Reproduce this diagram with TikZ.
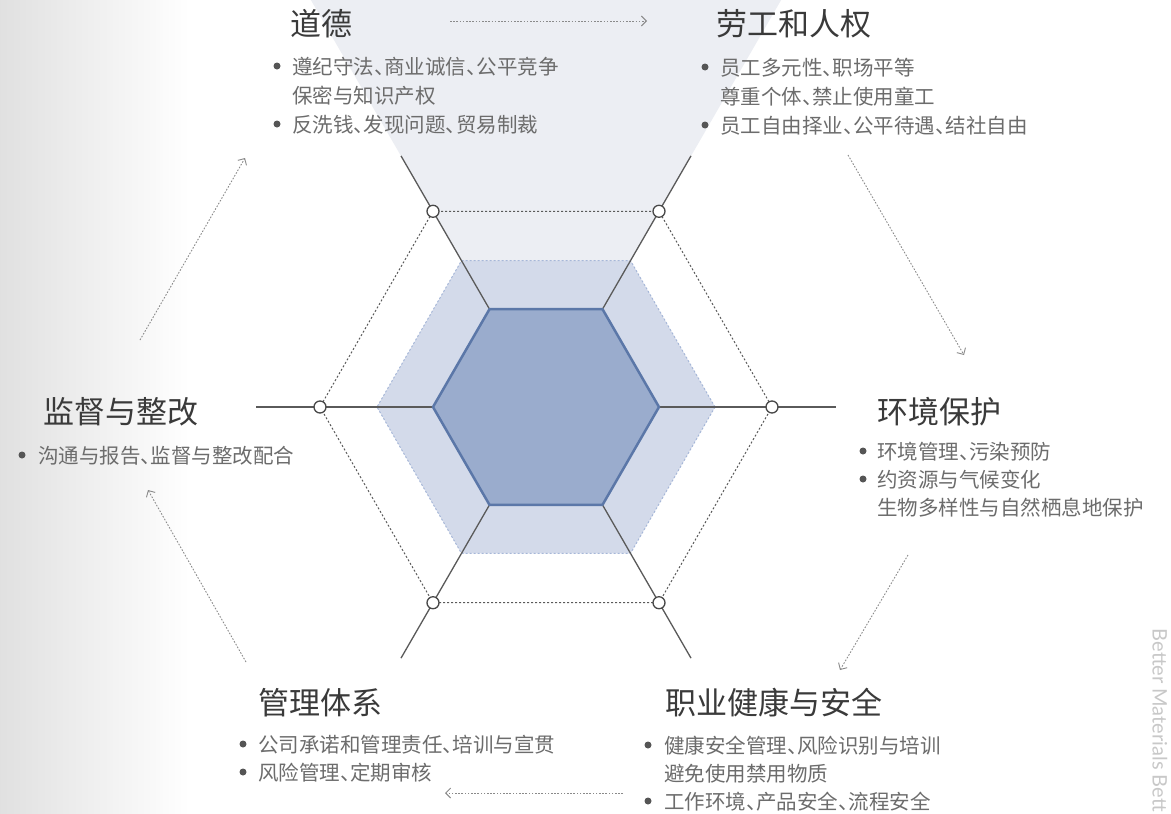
\documentclass[tikz,border=0pt]{standalone}
\usepackage{fontspec}
\setmainfont{Noto Sans CJK SC}
\newfontfamily\latinf{Lato}
\usetikzlibrary{arrows.meta,calc}
\definecolor{titlec}{HTML}{3A3A3A}
\definecolor{textc}{HTML}{6C6C6C}
\definecolor{dotc}{HTML}{555555}
\definecolor{funnelc}{HTML}{ECEEF3}
\definecolor{midfill}{HTML}{D3DAEA}
\definecolor{midline}{HTML}{A6B7D8}
\definecolor{infill}{HTML}{9AACCD}
\definecolor{inline}{HTML}{5B77A8}
\definecolor{spokec}{HTML}{5A5A5A}
\definecolor{arrowc}{HTML}{8A8A8A}
\definecolor{brandc}{HTML}{C8C8C8}
\newcommand\dn{\makebox[0.5em][l]{、}}
\tikzset{
 ttl/.style={anchor=base west, inner sep=0pt, text=titlec, font=\fontsize{31}{36}\selectfont},
 itm/.style={anchor=base west, inner sep=0pt, text=textc, font=\fontsize{20.5}{24}\selectfont},
 bul/.style={circle, fill=dotc, inner sep=0pt, minimum size=7pt},
 ring/.style={circle, draw=spokec!80!black, fill=white, line width=1.3pt, inner sep=0pt, minimum size=12pt},
 flow/.style={draw=arrowc, line width=0.9pt, dash pattern=on 1.6pt off 1.6pt, -{Straight Barb[length=5pt,width=10pt,line width=0.9pt]}},
 spk/.style={draw=spokec, line width=1.3pt},
 outerdash/.style={draw=spokec, line width=1pt, dash pattern=on 2pt off 2pt},
}
\begin{document}
\begin{tikzpicture}[x=1pt,y=-1pt]
\useasboundingbox (0,0) rectangle (1171,814);
\clip (0,0) rectangle (1171,814);
% background
\fill[white] (0,0) rectangle (1171,814);
\shade[left color=black!12, right color=white] (0,0) rectangle (190,814);
% funnel
\coordinate (c) at (546,407);
\fill[funnelc] (c) -- (308,-5) -- (784,-5) -- cycle;
\begin{scope}[shift={(546,407)}]
 \foreach \a in {0,60,...,300}{
   \coordinate (i\a) at (\a:113);
   \coordinate (m\a) at (\a:169);
   \coordinate (e\a) at (\a:290);
 }
 % middle hexagon
 \fill[midfill] (m0) -- (m60) -- (m120) -- (m180) -- (m240) -- (m300) -- cycle;
 \draw[midline, line width=1pt, dash pattern=on 2pt off 2pt] (m0) -- (m60) -- (m120) -- (m180) -- (m240) -- (m300) -- cycle;
 % spokes
 \foreach \a in {0,60,...,300}{ \draw[spk] (i\a) -- (e\a); }
 % inner hexagon
 \filldraw[fill=infill, draw=inline, line width=2.5pt, line join=round] (i0) -- (i60) -- (i120) -- (i180) -- (i240) -- (i300) -- cycle;
 % outer dashed hexagon
 \foreach \a in {0,60,...,300}{ \coordinate (q\a) at (\a:226); }
 \draw[outerdash] (q0) -- (q60) -- (q120) -- (q180) -- (q240) -- (q300) -- cycle;
 \foreach \a in {0,60,...,300}{ \node[ring] (o\a) at (q\a) {}; }
\end{scope}
% cycle arrows
\coordinate (a1s) at (450,21);  \coordinate (a1e) at (647,21);
\coordinate (a2s) at (848,155); \coordinate (a2e) at (964,355);
\coordinate (a3s) at (908,555); \coordinate (a3e) at (840,670);
\coordinate (a4s) at (623,793); \coordinate (a4e) at (445,793);
\coordinate (a5s) at (246,662); \coordinate (a5e) at (148,490);
\coordinate (a6s) at (140,340); \coordinate (a6e) at (245,158);
\draw[flow] (a1s) -- (a1e);
\draw[flow] (a2s) -- (a2e);
\draw[flow] (a3s) -- (a3e);
\draw[flow] (a4s) -- (a4e);
\draw[flow] (a5s) -- (a5e);
\draw[flow] (a6s) -- (a6e);
% Ethics
\node[ttl] (t1) at (290,35) {道德};
\node[bul] (b1a) at (277,66) {};
\node[itm] (l1a) at (292,74) {遵纪守法\dn 商业诚信\dn 公平竞争};
\node[itm] (l1b) at (292,103) {保密与知识产权};
\node[bul] (b1b) at (277,124) {};
\node[itm] (l1c) at (292,132) {反洗钱\dn 发现问题\dn 贸易制裁};
% Labour
\node[ttl] (t2) at (716,35) {劳工和人权};
\node[bul] (b2a) at (705,67) {};
\node[itm] (l2a) at (720,75) {员工多元性\dn 职场平等};
\node[itm] (l2b) at (720,104) {尊重个体\dn 禁止使用童工};
\node[bul] (b2b) at (705,125) {};
\node[itm] (l2c) at (720,133) {员工自由择业\dn 公平待遇\dn 结社自由};
% Environment
\node[ttl] (t3) at (877,423) {环境保护};
\node[bul] (b3a) at (863,451) {};
\node[itm] (l3a) at (877,459) {环境管理\dn 污染预防};
\node[bul] (b3b) at (863,479) {};
\node[itm] (l3b) at (877,487) {约资源与气候变化};
\node[itm] (l3c) at (877,515) {生物多样性与自然栖息地保护};
% Health & safety
\node[ttl] (t4) at (665,714) {职业健康与安全};
\node[bul] (b4a) at (648,745) {};
\node[itm] (l4a) at (664,753) {健康安全管理\dn 风险识别与培训};
\node[itm] (l4b) at (664,781) {避免使用禁用物质};
\node[bul] (b4b) at (648,801) {};
\node[itm] (l4c) at (664,809) {工作环境\dn 产品安全\dn 流程安全};
% Management system
\node[ttl] (t5) at (258,714) {管理体系};
\node[bul] (b5a) at (243,744) {};
\node[itm] (l5a) at (258,752) {公司承诺和管理责任\dn 培训与宣贯};
\node[bul] (b5b) at (243,772) {};
\node[itm] (l5b) at (258,780) {风险管理\dn 定期审核};
% Monitoring
\node[ttl] (t6) at (43,423) {监督与整改};
\node[bul] (b6a) at (22,455) {};
\node[itm] (l6a) at (38,463) {沟通与报告\dn 监督与整改配合};
% brand (vertical watermark at the right edge)
\node[rotate=-90, anchor=east, inner sep=0pt, text=brandc, font=\latinf\fontsize{20}{24}\selectfont] (brand) at (1160,812) {Better Materials Bett};
\end{tikzpicture}
\end{document}
